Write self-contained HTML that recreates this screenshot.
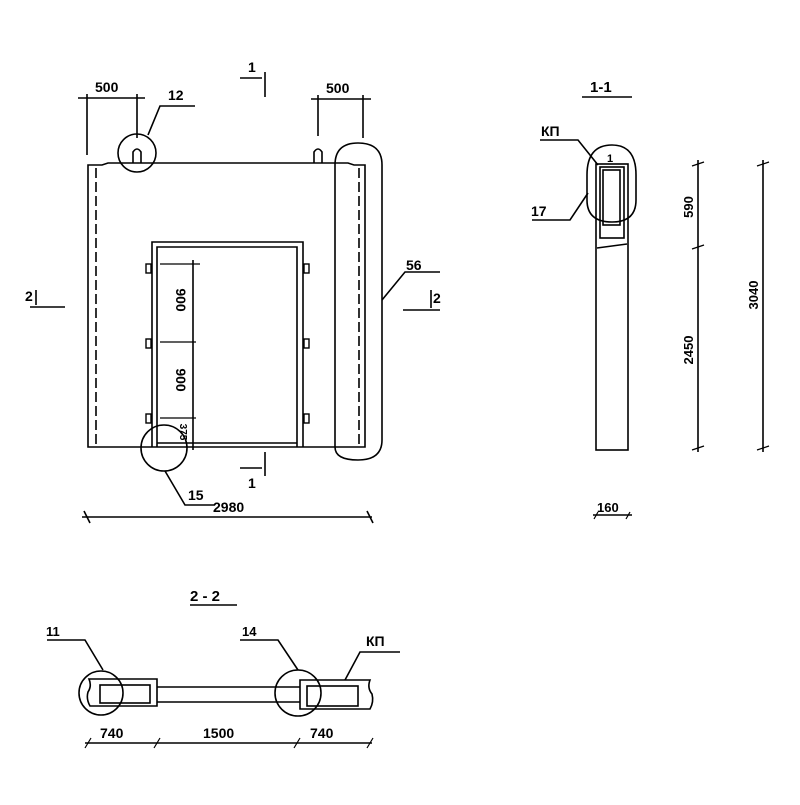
<!DOCTYPE html>
<html><head><meta charset="utf-8"><style>body{margin:0;background:#fff}</style></head><body>
<svg width="800" height="800" viewBox="0 0 800 800" xmlns="http://www.w3.org/2000/svg" font-family="Liberation Sans, sans-serif" font-weight="bold" fill="none" stroke="#000" stroke-width="1.6">
<!-- main panel -->
<path d="M88,447 V165 H102 L108,163 H348 L354,165 H365 V447 Z"/>
<line x1="96" y1="168" x2="96" y2="444" stroke-dasharray="10,4"/>
<line x1="359" y1="168" x2="359" y2="444" stroke-dasharray="10,4"/>
<path d="M335,447 V165 Q335,143 358,143 Q382,143 382,165 V440 Q382,460 358,460 Q335,460 335,447" />
<path d="M152,447 V242 H303 V447 M157,447 V247 H297 V447 M157,443 H297"/>
<g stroke-width="1.4">
<rect x="146" y="264" width="5" height="9"/><rect x="146" y="339" width="5" height="9"/><rect x="146" y="414" width="5" height="9"/>
<rect x="304" y="264" width="5" height="9"/><rect x="304" y="339" width="5" height="9"/><rect x="304" y="414" width="5" height="9"/>
</g>
<!-- tabs -->
<path d="M133,163 V152 Q137,146 141,152 V163"/>
<path d="M314,163 V152 Q318,146 322,152 V163"/>
<circle cx="137" cy="153" r="19"/>
<!-- dims 500 -->
<line x1="78" y1="98" x2="145" y2="98"/><line x1="87" y1="94" x2="87" y2="155"/><line x1="137" y1="94" x2="137" y2="138"/>
<line x1="311" y1="99" x2="371" y2="99"/><line x1="318" y1="95" x2="318" y2="136"/><line x1="363" y1="95" x2="363" y2="138"/>
<g fill="#000" stroke="none" font-size="14"><text x="95" y="92">500</text><text x="326" y="93">500</text><text x="168" y="100">12</text>
<text x="248" y="72">1</text><text x="248" y="488">1</text><text x="25" y="301">2</text><text x="433" y="303">2</text><text x="406" y="270">56</text>
<text x="188" y="500">15</text><text x="213" y="512">2980</text></g>
<polyline points="195,106 160,106 148,135"/>
<!-- section 1 markers -->
<line x1="240" y1="78" x2="262" y2="78"/><line x1="265" y1="72" x2="265" y2="97"/>
<line x1="240" y1="468" x2="262" y2="468"/><line x1="265" y1="452" x2="265" y2="476"/>
<line x1="30" y1="307" x2="65" y2="307"/><line x1="36" y1="290" x2="36" y2="305"/>
<line x1="403" y1="310" x2="440" y2="310"/><line x1="431" y1="290" x2="431" y2="308"/>
<polyline points="440,272 405,272 382,300"/>
<!-- vertical dim -->
<line x1="193" y1="260" x2="193" y2="450"/>
<g stroke-width="1.2"><line x1="160" y1="264" x2="200" y2="264"/><line x1="160" y1="342" x2="196" y2="342"/><line x1="160" y1="418" x2="196" y2="418"/></g>
<g fill="#000" stroke="none" font-size="14">
<text transform="translate(176,300) rotate(90)" text-anchor="middle">900</text>
<text transform="translate(176,380) rotate(90)" text-anchor="middle">900</text>
<text transform="translate(180,432) rotate(90)" text-anchor="middle" font-size="10">375</text></g>
<circle cx="164" cy="448" r="23"/>
<polyline points="165,471 185,505 215,505"/>
<line x1="82" y1="517" x2="372" y2="517"/>
<line x1="84" y1="511" x2="90" y2="523"/><line x1="367" y1="511" x2="373" y2="523"/>
<!-- 1-1 -->
<g fill="#000" stroke="none" font-size="15"><text x="590" y="92">1-1</text><text x="541" y="136" font-size="14">КП</text><text x="607" y="162" font-size="11">1</text><text x="531" y="216" font-size="14">17</text>
<text x="597" y="512" font-size="13">160</text>
<text transform="translate(693,207) rotate(-90)" text-anchor="middle" font-size="13">590</text>
<text transform="translate(693,350) rotate(-90)" text-anchor="middle" font-size="13">2450</text>
<text transform="translate(758,295) rotate(-90)" text-anchor="middle" font-size="13">3040</text></g>
<line x1="582" y1="97" x2="632" y2="97"/>
<rect x="596" y="164" width="32" height="286"/>
<rect x="600" y="167" width="24" height="71"/>
<rect x="603" y="170" width="17" height="55"/>
<line x1="597" y1="248" x2="627" y2="244"/>
<path d="M587,175 Q587,145 612,145 Q636,145 636,175 V200 Q636,222 612,222 Q587,222 587,200 Z"/>
<polyline points="540,140 578,140 598,165"/>
<polyline points="532,220 570,220 588,193"/>
<line x1="698" y1="160" x2="698" y2="452"/><line x1="763" y1="160" x2="763" y2="452"/>
<g stroke-width="1.2"><line x1="692" y1="166" x2="704" y2="162"/><line x1="692" y1="249" x2="704" y2="245"/><line x1="692" y1="450" x2="704" y2="446"/>
<line x1="757" y1="166" x2="769" y2="162"/><line x1="757" y1="450" x2="769" y2="446"/>
<line x1="594" y1="519" x2="598" y2="512"/><line x1="626" y1="519" x2="630" y2="512"/></g>
<line x1="593" y1="515" x2="632" y2="515"/>
<!-- 2-2 -->
<g fill="#000" stroke="none" font-size="15"><text x="190" y="601">2 - 2</text><text x="46" y="636" font-size="13">11</text><text x="242" y="636" font-size="13">14</text><text x="366" y="646" font-size="14">КП</text>
<text x="100" y="738" font-size="14">740</text><text x="203" y="738" font-size="14">1500</text><text x="310" y="738" font-size="14">740</text></g>
<line x1="190" y1="605" x2="237" y2="605"/>
<path d="M157,679 H89 Q92,686 88,692 Q86,699 90,706 H157 Z"/>
<rect x="100" y="685" width="50" height="18"/>
<line x1="157" y1="687" x2="300" y2="687"/><line x1="157" y1="702" x2="300" y2="702"/>
<path d="M300,680 H370 Q367,688 372,694 Q374,702 370,709 H300 Z"/>
<rect x="307" y="686" width="51" height="20"/>
<circle cx="101" cy="693" r="22"/><circle cx="298" cy="693" r="23"/>
<polyline points="47,640 85,640 103,670"/>
<polyline points="240,640 278,640 298,670"/>
<polyline points="400,652 360,652 345,680"/>
<line x1="85" y1="743" x2="372" y2="743"/>
<g stroke-width="1.2"><line x1="85" y1="748" x2="91" y2="738"/><line x1="154" y1="748" x2="160" y2="738"/><line x1="294" y1="748" x2="300" y2="738"/><line x1="367" y1="748" x2="373" y2="738"/></g>
</svg>
</body></html>
